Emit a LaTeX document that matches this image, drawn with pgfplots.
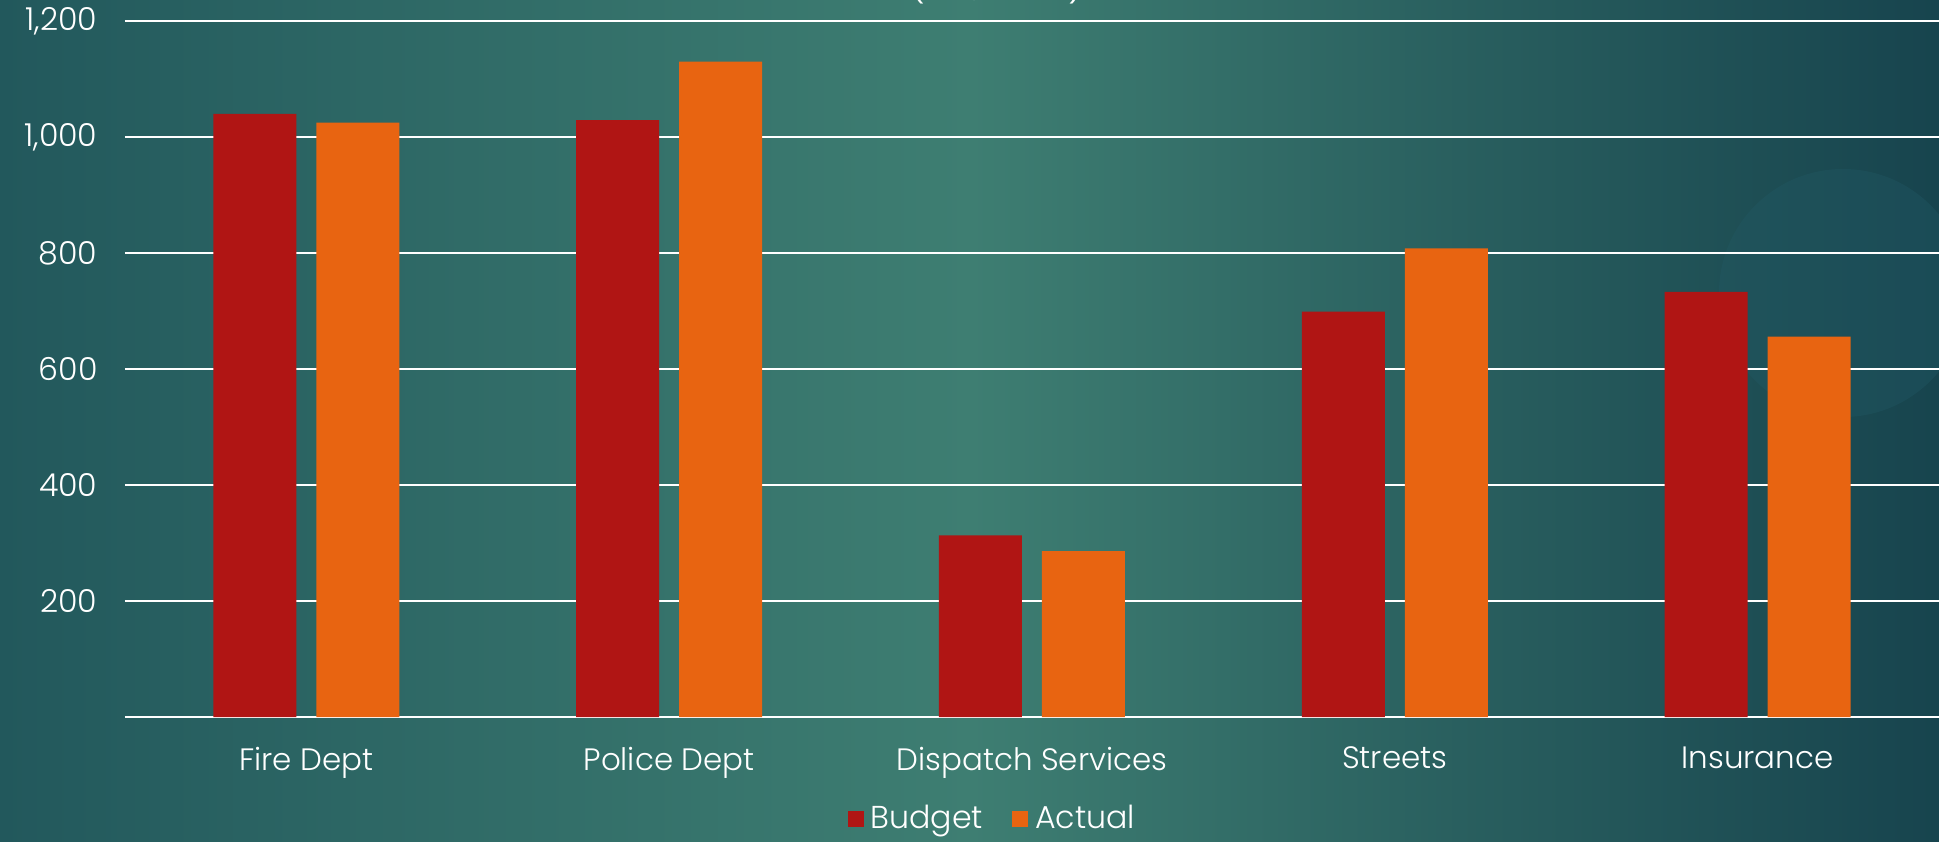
\documentclass[border=0pt]{standalone}
\usepackage{pgfplots}
\pgfplotsset{compat=1.18}
\usepackage{fontspec}
\setmainfont{Poppins}[UprightFont=* Light]
\definecolor{budget}{RGB}{176,21,20}
\definecolor{actual}{RGB}{232,100,17}
\definecolor{bgl}{RGB}{34,88,92}
\definecolor{bgm}{RGB}{62,126,114}
\definecolor{bgr}{RGB}{23,68,78}
\definecolor{circ}{RGB}{34,90,102}
\pgfdeclarehorizontalshading{bgshade}{100bp}{color(0bp)=(bgl); color(25bp)=(bgl); color(37bp)=(bgl!50!bgm); color(50bp)=(bgm); color(63bp)=(bgm!45!bgr); color(75bp)=(bgr); color(100bp)=(bgr)}
\begin{document}
\begin{tikzpicture}
\useasboundingbox (-12.49mm,-12.49mm) rectangle (181.4mm,71.7mm);
\shade[shading=bgshade] (-12.49mm,-12.49mm) rectangle (181.4mm,71.7mm);
\fill[circ, opacity=0.35] (171.8mm,42.4mm) circle (12.4mm);
\node[anchor=base, text=white, font=\fontsize{10}{12}\selectfont] at (87.2mm,71.9mm) {(in \$000s)};
\begin{axis}[
  scale only axis,
  width=181.4mm, height=69.6mm,
  xmin=-0.5, xmax=4.5, ymin=0, ymax=1200,
  ybar=2mm, bar width=8.3mm,
  xtick={0,1,2,3,4},
  xticklabels={Fire Dept, Police Dept, Dispatch Services, Streets, Insurance},
  ytick={200,400,600,800,1000,1200},
  extra y ticks={0}, extra y tick labels={},
  extra tick style={grid=major},
  ymajorgrids,
  grid style={white, line width=0.5pt},
  axis line style={draw=none},
  major tick length=0pt,
  tick label style={text=white},
  yticklabel style={font=\fontsize{9}{10}\selectfont, xshift=-1.5mm},
  xticklabel style={font=\fontsize{8.8}{11}\selectfont, yshift=-1.75mm},
  /pgf/number format/1000 sep={,},
  /pgf/number format/assume math mode=true,
  legend style={at={(0.5,-0.147)}, anchor=center, xshift=-3.7mm, draw=none, fill=none,
    text=white, font=\fontsize{9}{11}\selectfont, legend columns=2,
    /tikz/every even column/.append style={column sep=2.2mm},
    /tikz/every odd column/.append style={inner xsep=1pt}},
]
\addplot[fill=budget, draw=none,
  legend image code/.code={\fill[budget] (0mm,-0.8mm) rectangle (1.6mm,0.8mm);}]
  coordinates {(0,1040) (1,1029) (2,313) (3,699) (4,733)};
\addplot[fill=actual, draw=none,
  legend image code/.code={\fill[actual] (0mm,-0.8mm) rectangle (1.6mm,0.8mm);}]
  coordinates {(0,1025) (1,1130) (2,286) (3,808) (4,656)};
\legend{Budget, Actual}
\end{axis}
\end{tikzpicture}
\end{document}
